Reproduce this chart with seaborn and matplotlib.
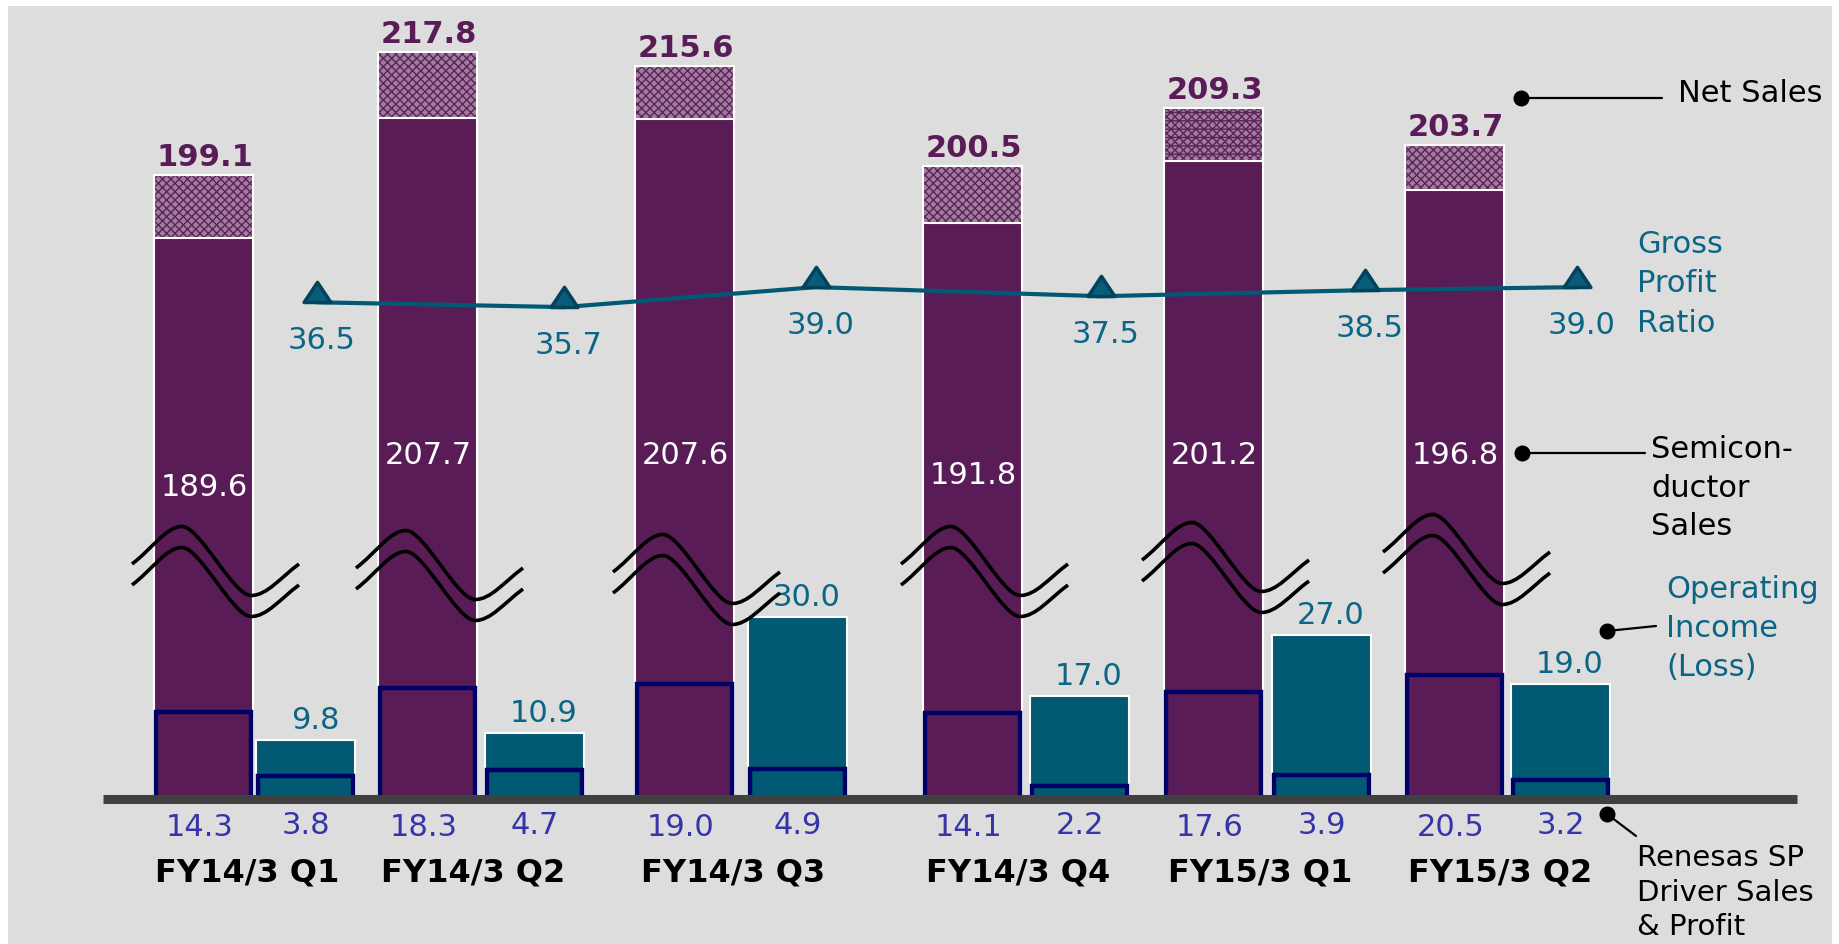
import numpy as np
import pandas as pd
import matplotlib
matplotlib.use("Agg")
import matplotlib.pyplot as plt
from matplotlib.path import Path
from matplotlib.patches import PathPatch, Rectangle
from matplotlib.lines import Line2D
from matplotlib.transforms import Affine2D
import seaborn as sns

# ---------------- data ----------------
periods = ["FY14/3 Q1", "FY14/3 Q2", "FY14/3 Q3", "FY14/3 Q4", "FY15/3 Q1", "FY15/3 Q2"]
net_sales = [199.1, 217.8, 215.6, 200.5, 209.3, 203.7]
semi_sales = [189.6, 207.7, 207.6, 191.8, 201.2, 196.8]
gross_profit_ratio = [36.5, 35.7, 39.0, 37.5, 38.5, 39.0]
operating_income = [9.8, 10.9, 30.0, 17.0, 27.0, 19.0]
sp_driver_sales = [14.3, 18.3, 19.0, 14.1, 17.6, 20.5]
sp_driver_profit = [3.8, 4.7, 4.9, 2.2, 3.9, 3.2]

# ---------------- layout (pixels, origin top-left) ----------------
W, H = 1840, 945
BASE_Y = 800
sales_x = [204, 428, 685, 973, 1214, 1455]
oi_x = [306, 535, 798, 1080, 1322, 1561]
ratio_x = [317, 564, 816, 1101, 1365, 1577]
BAR_W = 99
BOX_W = 95
semi_label_y = [487, 456, 456, 475, 456, 456]
wave_y = [562, 566, 570, 562, 558, 550]
top_hatch = ["xxxx", "xxxx", "xxxx", "xxxx", "xxxx--", "xxxx"]

# scales (pixels per unit)
SALES_PPU, SALES_BREAK = 6.59, 104.4
LOW_PPU = 6.07
RATIO_PPU, RATIO_REF, RATIO_REF_Y = 6.06, 37.7, 296.0

# ---------------- colours ----------------
BG = "#dddddd"
PURPLE = "#5a1c57"
PATTERN_FACE = "#a07d9e"
PATTERN_INK = "#5e2259"
TEAL = "#005a73"
TEAL_TEXT = "#0b6585"
NAVY = "#000066"
SP_TEXT = "#3535a8"
BASE = "#404040"

sns.set_style("white")
plt.rcParams["font.family"] = ["DejaVu Sans"]
plt.rcParams["hatch.linewidth"] = 1.0

fig = plt.figure(figsize=(W / 100, H / 100), dpi=100, facecolor="white")
PX = Affine2D().scale(1 / W, -1 / H).translate(0, 1) + fig.transFigure
fig.add_artist(Rectangle((8, 7), W - 16, H - 7, transform=PX,
                         facecolor=BG, edgecolor="none", zorder=-10))

base_frac = (H - BASE_Y) / H
ax_high = fig.add_axes([0, base_frac, 1, 1 - base_frac])
ax_low = fig.add_axes([0, 0, 1, 1])
ax_ratio = fig.add_axes([0, 0, 1, 1])


def bars(ax, xs, vals, width_px, **kw):
    df = pd.DataFrame({"x": xs, "y": vals})
    gap = np.min(np.diff(sorted(xs)))
    n0 = len(ax.patches)
    sns.barplot(data=df, x="x", y="y", native_scale=True, orient="x",
                width=width_px / gap, errorbar=None, ax=ax, **kw)
    return ax.patches[n0:]


# ---- semiconductor / net sales (broken axis) ----
top = bars(ax_high, sales_x, net_sales, BAR_W, color=PATTERN_FACE,
           facecolor=PATTERN_FACE, edgecolor=PATTERN_INK, linewidth=0)
for p, h in zip(top, top_hatch):
    p.set_hatch(h)
bars(ax_high, sales_x, net_sales, BAR_W, facecolor="none",
     edgecolor="white", linewidth=1.5)
bars(ax_high, sales_x, semi_sales, BAR_W, color=PURPLE, facecolor=PURPLE,
     edgecolor="white", linewidth=1.5)
for x, v in zip(sales_x, net_sales):
    ax_high.annotate(f"{v:.1f}", (x, v), xytext=(0.5, 7), textcoords="offset points",
                     ha="center", va="baseline", fontsize=22, fontweight="bold",
                     color=PURPLE)

# ---- operating income + SP driver boxes ----
bars(ax_low, oi_x, operating_income, BAR_W, color=TEAL, facecolor=TEAL,
     edgecolor="white", linewidth=1.5)
bars(ax_low, sales_x, sp_driver_sales, BOX_W, facecolor="none",
     edgecolor=NAVY, linewidth=3.2)
bars(ax_low, oi_x, sp_driver_profit, BOX_W, facecolor="none",
     edgecolor=NAVY, linewidth=3.2)
ax_low.axhline(0, xmin=103 / W, xmax=1797 / W, color=BASE, lw=6.5, zorder=5,
               solid_capstyle="butt")
for x, v in zip(oi_x, operating_income):
    ax_low.annotate(f"{v:.1f}", (x, v), xytext=(6.5, 8.5), textcoords="offset points",
                    ha="center", va="baseline", fontsize=22, color=TEAL_TEXT)

# ---- gross profit ratio ----
tri = Path([(0, 1.5), (-1, 0), (1, 0), (0, 1.5)],
           [Path.MOVETO, Path.LINETO, Path.LINETO, Path.CLOSEPOLY])
sns.lineplot(x=ratio_x, y=gross_profit_ratio, ax=ax_ratio, color=TEAL, lw=3,
             marker=tri, markersize=29, markerfacecolor="#0b5c78",
             markeredgecolor="#00445c", markeredgewidth=2.5)
for x, v in zip(ratio_x, gross_profit_ratio):
    ax_ratio.annotate(f"{v:.1f}", (x, v), xytext=(3, -33), textcoords="offset points",
                      ha="center", va="baseline", fontsize=22, color=TEAL_TEXT)

# ---- axis limits ----
for ax in (ax_high, ax_low, ax_ratio):
    ax.set_xlim(0, W)
    ax.set_axis_off()
ax_high.set_ylim(SALES_BREAK, SALES_BREAK + BASE_Y / SALES_PPU)
ax_low.set_ylim(-(H - BASE_Y) / LOW_PPU, BASE_Y / LOW_PPU)
ax_ratio.set_ylim(RATIO_REF - (H - RATIO_REF_Y) / RATIO_PPU,
                  RATIO_REF + RATIO_REF_Y / RATIO_PPU)
if ax_ratio.get_legend():
    ax_ratio.get_legend().remove()

# ---- in-bar semiconductor labels, SP labels, category labels ----
for x, v, y in zip(sales_x, semi_sales, semi_label_y):
    fig.text(x, y, f"{v:.1f}", transform=PX, ha="center", va="center",
             fontsize=22, color="white")
for x, v in zip(sales_x, sp_driver_sales):
    fig.text(x - 4, 836, f"{v:.1f}", transform=PX, ha="center", va="baseline",
             fontsize=22, color=SP_TEXT)
for x, v in zip(oi_x, sp_driver_profit):
    fig.text(x, 834, f"{v:.1f}", transform=PX, ha="center", va="baseline",
             fontsize=22, color=SP_TEXT)
for a, b, name in zip(sales_x, oi_x, periods):
    fig.text((a + b) / 2 - 8, 882, name, transform=PX, ha="center", va="baseline",
             fontsize=23, fontweight="bold", color="black")

# ---- axis-break waves ----
def wave(cx, cy):
    pts = [(-72, 3), (-52, -12), (-38, -34.5), (-22, -34.5),
           (-4, -34.5), (29, 34.5), (47, 34.5),
           (63, 34.5), (76, 17), (95, 3)]
    codes = [Path.MOVETO] + [Path.CURVE4] * 9
    return Path([(cx + dx, cy + dy) for dx, dy in pts], codes)

for cx, cy in zip(sales_x, wave_y):
    for off in (0, 21):
        fig.add_artist(PathPatch(wave(cx, cy + off), transform=PX, fill=False,
                                 edgecolor="black", lw=2.6, zorder=6,
                                 capstyle="butt"))

# ---- legend call-outs ----
def dot_line(x0, y0, x1, y1):
    fig.add_artist(Line2D([x0, x1], [y0, y1], transform=PX, color="black", lw=1.6,
                          zorder=7))
    fig.add_artist(Line2D([x0], [y0], transform=PX, marker="o", markersize=10.5,
                          color="black", lw=0, zorder=7))

def lines_text(x, ys, texts, color, size=22):
    for y, t in zip(ys, texts):
        fig.text(x, y, t, transform=PX, ha="left", va="baseline", fontsize=size,
                 color=color)

dot_line(1521, 99, 1662, 99)
lines_text(1678, [102], ["Net Sales"], "black")
lines_text(1637, [253, 292, 332], ["Gross", "Profit", "Ratio"], TEAL_TEXT)
dot_line(1522, 454, 1645, 454)
lines_text(1651, [458, 497, 535], ["Semicon-", "ductor", "Sales"], "black")
dot_line(1607, 632, 1656, 627)
lines_text(1666, [598, 637, 676], ["Operating", "Income", "(Loss)"], TEAL_TEXT)
dot_line(1607, 815, 1636, 837)
lines_text(1637, [866, 901, 935], ["Renesas SP", "Driver Sales", "& Profit"], "black",
           size=21)

fig.savefig("out.png", dpi=100, facecolor="white")
